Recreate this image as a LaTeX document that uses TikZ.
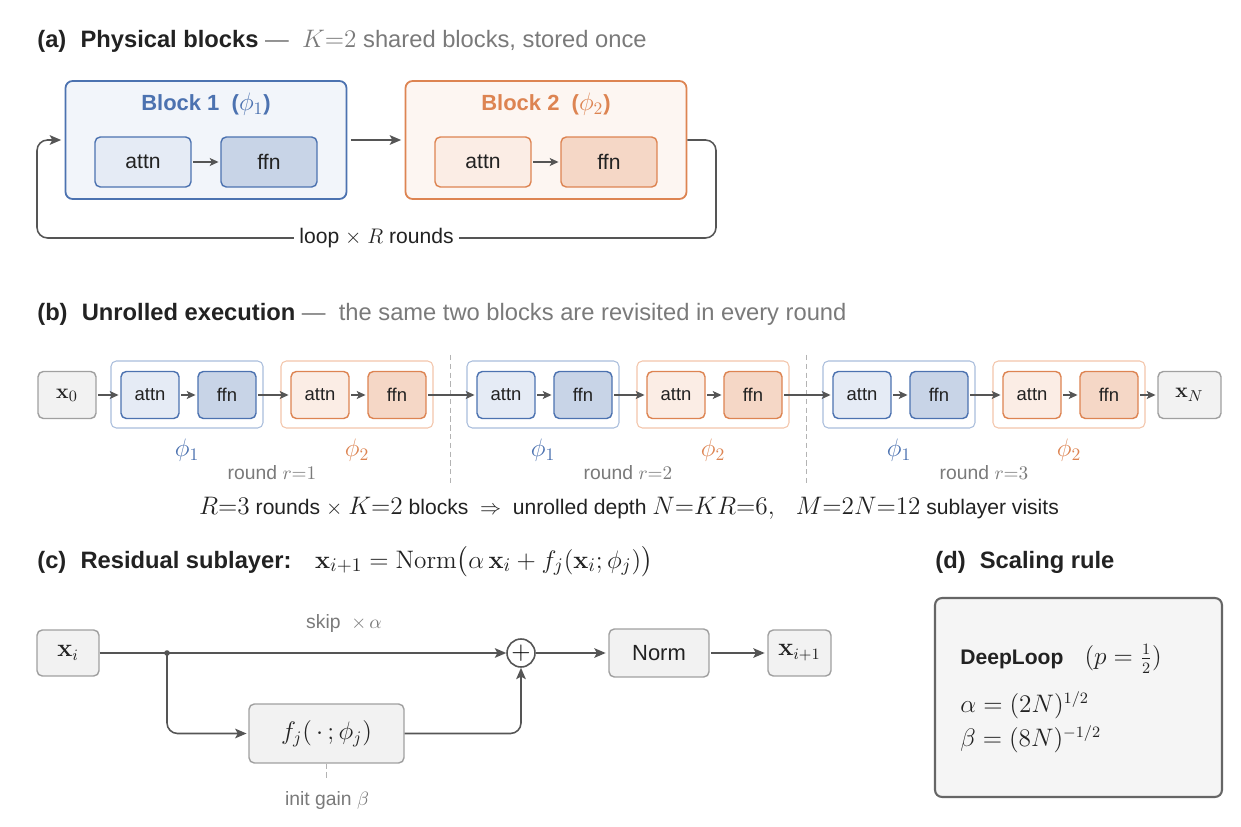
\documentclass[tikz,border=0pt]{standalone}
\usepackage{exscale}
\usepackage[no-math]{fontspec}
\setmainfont{Liberation Sans}
\usetikzlibrary{arrows.meta}

\definecolor{ink}{HTML}{222222}
\definecolor{mute}{HTML}{7A7A7A}
\definecolor{wire}{HTML}{555555}
\definecolor{blueS}{HTML}{4C72B0}
\definecolor{blueBg}{HTML}{F2F5FA}
\definecolor{blueA}{HTML}{E5EBF5}
\definecolor{blueF}{HTML}{C8D4E7}
\definecolor{blueL}{HTML}{AABEDC}
\definecolor{orS}{HTML}{DD8452}
\definecolor{orBg}{HTML}{FDF6F2}
\definecolor{orA}{HTML}{FBEDE5}
\definecolor{orF}{HTML}{F5D7C6}
\definecolor{orL}{HTML}{F3C6AC}
\definecolor{grayF}{HTML}{F2F2F2}
\definecolor{grayS}{HTML}{A0A0A0}

% math set a little larger than the text round it
\newcommand{\mx}[2]{{\fontsize{#1}{#1}\selectfont$#2$}}

\tikzset{
    ttl/.style={anchor=base west, text=ink, inner sep=0pt, font=\fontsize{13.5}{15}\selectfont},
    arr/.style={draw=wire, line width=0.9pt, -{Stealth[length=6.5pt,width=5.5pt,inset=1.5pt]}},
    sarr/.style={arr, -{Stealth[length=5pt,width=4.5pt,inset=1.2pt]}, shorten <=1pt, shorten >=1pt},
    blk/.style={rounded corners=4pt, line width=1pt, minimum width=5.62cm, minimum height=2.36cm},
    cell/.style={rounded corners=3pt, line width=0.8pt, text=ink, inner sep=0pt},
    big/.style={cell, minimum width=1.92cm, minimum height=1cm, font=\fontsize{12}{14}\selectfont},
    small/.style={cell, minimum width=1.16cm, minimum height=0.94cm, font=\fontsize{10.5}{12}\selectfont},
    grp/.style={rounded corners=3pt, line width=0.6pt, minimum width=3.04cm, minimum height=1.34cm},
    bA/.style={draw=blueS, fill=blueA},
    bF/.style={draw=blueS, fill=blueF},
    oA/.style={draw=orS, fill=orA},
    oF/.style={draw=orS, fill=orF},
    gbox/.style={cell, draw=grayS, fill=grayF},
    lbl/.style={text=mute, font=\fontsize{11}{13}\selectfont},
}

\begin{document}
\begin{tikzpicture}[x=0.02cm, y=-0.02cm]
    \useasboundingbox (0,0) rectangle (1241,827);
    \fill[white] (0,0) rectangle (1241,827);

    % (a) physical blocks
    \node[ttl] (ta) at (37,48) {\textbf{(a)}\hspace{0.6em}\textbf{Physical blocks}\ \textcolor{mute}{—\ \ \mx{15.5}{K{=}2} shared blocks, stored once}};
    \node[blk, draw=blueS, fill=blueBg] (B1) at (206,140) {};
    \node[blk, draw=orS, fill=orBg] (B2) at (546,140) {};
    \node[text=blueS, font=\fontsize{12.5}{14}\bfseries] (n1) at (206,104) {Block 1\ \ (\mx{14}{\phi_1})};
    \node[text=orS, font=\fontsize{12.5}{14}\bfseries] (n2) at (546,104) {Block 2\ \ (\mx{14}{\phi_2})};
    \node[big, bA] (a1) at (143,162) {attn};
    \node[big, bF] (f1) at (269,162) {ffn};
    \node[big, oA] (a2) at (483,162) {attn};
    \node[big, oF] (f2) at (609,162) {ffn};
    \draw[sarr] (a1) -- (f1);
    \draw[sarr] (a2) -- (f2);
    \draw[arr, shorten <=2pt, shorten >=2pt] (B1) -- (B2);
    \draw[arr, rounded corners=6pt, shorten >=2pt] (B2.east) -- (716,140) -- (716,238)
        -- node[fill=white, inner sep=3pt, text=ink, font=\fontsize{12}{14}\selectfont] (lp) {loop $\times$ \mx{13}{R} rounds} (37,238)
        -- (37,140) -- (B1.west);

    % (b) unrolled execution
    \node[ttl] (tb) at (37,321) {\textbf{(b)}\hspace{0.6em}\textbf{Unrolled execution}\ \textcolor{mute}{—\ \ the same two blocks are revisited in every round}};
    \node[small, gbox, font=\fontsize{12.5}{14}\selectfont] (x0) at (67,395) {$\mathbf{x}_0$};
    \node[small, gbox, minimum width=1.26cm, font=\fontsize{12.5}{14}\selectfont] (xN) at (1189.5,395) {$\mathbf{x}_N$};
    \foreach \k/\r in {0/1,1/2,2/3} {
        \pgfmathsetmacro{\o}{356*\k}
        \node[grp, draw=blueL] (r\k g1) at (187+\o,394.5) {};
        \node[grp, draw=orL] (r\k g2) at (357+\o,394.5) {};
        \node[small, bA] (r\k a1) at (150+\o,395) {attn};
        \node[small, bF] (r\k f1) at (227+\o,395) {ffn};
        \node[small, oA] (r\k a2) at (320+\o,395) {attn};
        \node[small, oF] (r\k f2) at (397+\o,395) {ffn};
        \draw[sarr] (r\k a1) -- (r\k f1);
        \draw[sarr] (r\k f1) -- (r\k a2);
        \draw[sarr] (r\k a2) -- (r\k f2);
        \node[text=blueS, font=\fontsize{14}{16}\selectfont] (p\k a) at (187+\o,450) {$\phi_1$};
        \node[text=orS, font=\fontsize{14}{16}\selectfont] (p\k b) at (357+\o,450) {$\phi_2$};
        \node[lbl] (rl\k) at (272+\o,473) {round $r{=}\r$};
    }
    \draw[densely dashed, draw=grayS!80, line width=0.5pt] (450,355) -- (450,485);
    \draw[densely dashed, draw=grayS!80, line width=0.5pt] (806,355) -- (806,485);
    \draw[sarr] (x0) -- (r0a1);
    \draw[sarr] (r0f2) -- (r1a1);
    \draw[sarr] (r1f2) -- (r2a1);
    \draw[sarr] (r2f2) -- (xN);
    \node[text=ink, font=\fontsize{12}{14}\selectfont] (sum) at (629,508)
        {\mx{15}{R{=}3} rounds $\times$ \mx{15}{K{=}2} blocks \ $\Rightarrow$\ \ unrolled depth \mx{15}{N{=}KR{=}6,}\quad \mx{15}{M{=}2N{=}12} sublayer visits};

    % (c) residual sublayer
    \node[ttl] (tc) at (37,568) {\textbf{(c)}\hspace{0.6em}\textbf{Residual sublayer:}\quad {\fontsize{15}{22}\selectfont$\mathbf{x}_{i+1}=\mathrm{Norm}\big(\alpha\,\mathbf{x}_i+f_j(\mathbf{x}_i;\phi_j)\big)$}};
    \node[gbox, minimum width=1.24cm, minimum height=0.92cm, font=\fontsize{13.5}{15}\selectfont] (xi) at (68,653) {$\mathbf{x}_i$};
    \node[circle, draw=wire, line width=0.9pt, minimum size=0.56cm, inner sep=0pt, font=\fontsize{15}{15}\selectfont] (add) at (521,653) {$+$};
    \node[gbox, minimum width=2cm, minimum height=0.96cm, font=\fontsize{12.5}{15}\selectfont] (nm) at (659,653) {Norm};
    \node[gbox, minimum width=1.26cm, minimum height=0.92cm, font=\fontsize{13.5}{15}\selectfont] (xo) at (799.5,653) {$\mathbf{x}_{i+1}$};
    \node[gbox, minimum width=3.1cm, minimum height=1.18cm, font=\fontsize{14}{16}\selectfont] (fj) at (326.5,733.5) {$f_j(\,\cdot\,;\phi_j)$};
    \coordinate (br) at (167,653);
    \draw[arr] (xi) -- (add);
    \fill[wire] (br) circle[radius=1.6pt];
    \draw[arr, rounded corners=6pt, shorten >=1pt] (br) |- (fj.west);
    \draw[arr, rounded corners=6pt] (fj.east) -| (add.south);
    \draw[arr, shorten >=1.5pt] (add) -- (nm);
    \draw[arr, shorten <=1pt, shorten >=1.5pt] (nm) -- (xo);
    \node[lbl] (sk) at (344,624) {skip\ \ $\times\,\alpha$};
    \coordinate (gn) at (326.5,780);
    \draw[densely dashed, draw=grayS!80, line width=0.5pt] (fj.south) -- (gn);
    \node[lbl] (ig) at (327,800) {init gain\ $\beta$};

    % (d) scaling rule
    \node[ttl] (td) at (935,568) {\textbf{(d)}\hspace{0.6em}\textbf{Scaling rule}};
    \node[draw=wire!90, fill=grayF!80, line width=1.2pt, rounded corners=4pt, minimum width=5.74cm, minimum height=3.98cm] (rule) at (1078.5,697.5) {};
    \node[anchor=west, inner sep=0pt, text=ink, font=\fontsize{12}{14}\selectfont] (dl) at (960,659) {\textbf{DeepLoop}\quad\mx{13.5}{(p=\frac{1}{2})}};
    \node[anchor=west, inner sep=0pt, text=ink, font=\fontsize{13.5}{15}\selectfont] (al) at (960,705) {$\alpha=(2N)^{1/2}$};
    \node[anchor=west, inner sep=0pt, text=ink, font=\fontsize{13.5}{15}\selectfont] (be) at (960,739) {$\beta=(8N)^{-1/2}$};
\end{tikzpicture}
\end{document}
